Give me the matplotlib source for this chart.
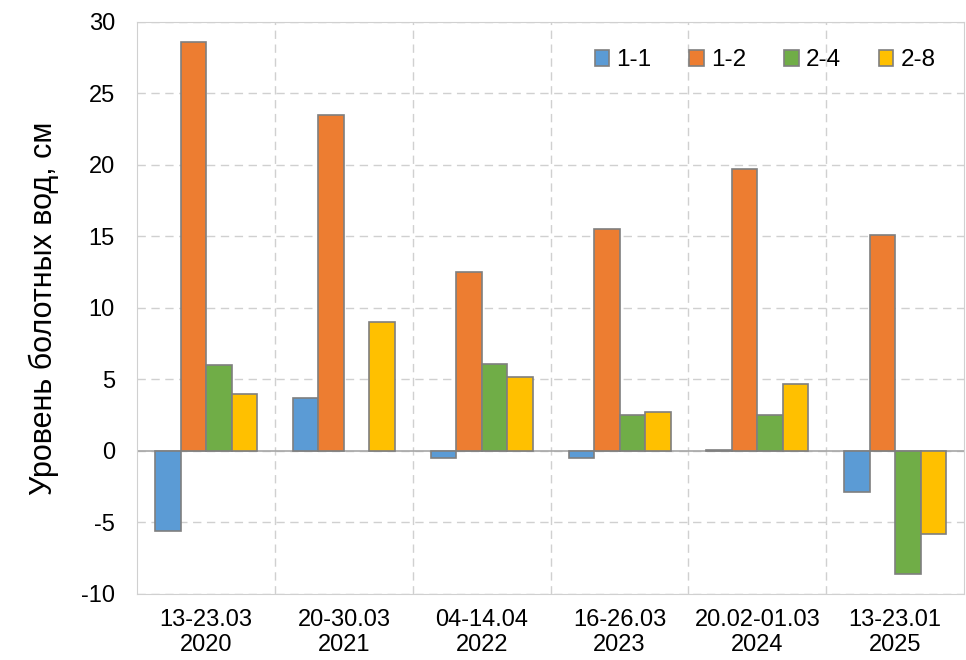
import numpy as np
import matplotlib.pyplot as plt

plt.rcParams['font.family'] = ['Liberation Sans', 'DejaVu Sans']
plt.rcParams['axes.unicode_minus'] = False

# периоды и серии
periods = ["13-23.03\n2020", "20-30.03\n2021", "04-14.04\n2022",
           "16-26.03\n2023", "20.02-01.03\n2024", "13-23.01\n2025"]
names = ["1-1", "1-2", "2-4", "2-8"]
s_11 = [-5.6, 3.7, -0.5, -0.5, 0.05, -2.9]
s_12 = [28.6, 23.5, 12.5, 15.5, 19.7, 15.1]
s_24 = [6.0, np.nan, 6.1, 2.5, 2.5, -8.6]
s_28 = [4.0, 9.0, 5.2, 2.7, 4.7, -5.8]
colors = ["#5B9BD5", "#ED7D31", "#70AD47", "#FFC000"]

fig, ax = plt.subplots(figsize=(9.66, 6.6), dpi=100)
fig.subplots_adjust(left=0.142, right=0.998, top=0.967, bottom=0.1)

x = np.arange(len(periods))
w = 0.185
for i, (vals, c) in enumerate(zip([s_11, s_12, s_24, s_28], colors)):
    ax.bar(x + (i - 1.5) * w, vals, w, color=c, edgecolor="#7f7f7f",
           linewidth=1.2, label=names[i], zorder=3)

ax.set_xlim(-0.5, len(periods) - 0.5)
ax.set_ylim(-10, 30)
ax.set_yticks(range(-10, 31, 5))
ax.set_xticks(x)
ax.set_xticklabels(periods, fontsize=17, linespacing=1.15)
ax.tick_params(axis="y", labelsize=17, length=0, pad=16)
ax.tick_params(axis="x", length=0, pad=11)

# сетка
ax.set_xticks(np.arange(0.5, len(periods) - 0.5), minor=True)
ax.tick_params(axis="x", which="minor", length=0)
ax.grid(axis="y", which="major", color="#d0d0d0", linestyle=(0, (6, 4)), linewidth=1, zorder=0)
ax.grid(axis="x", which="minor", color="#d0d0d0", linestyle=(0, (6, 4)), linewidth=1, zorder=0)
ax.axhline(0, color="#a6a6a6", linewidth=1.2, zorder=2)
for sp in ax.spines.values():
    sp.set_color("#d0d0d0")

ax.set_ylabel("Уровень болотных вод, см", fontsize=22, labelpad=16)

ax.legend(loc="upper right", ncol=4, frameon=False, fontsize=17.5,
          handlelength=0.6, handleheight=0.6, handletextpad=0.3,
          columnspacing=1.55, bbox_to_anchor=(0.992, 0.99))

fig.savefig("out.png")
